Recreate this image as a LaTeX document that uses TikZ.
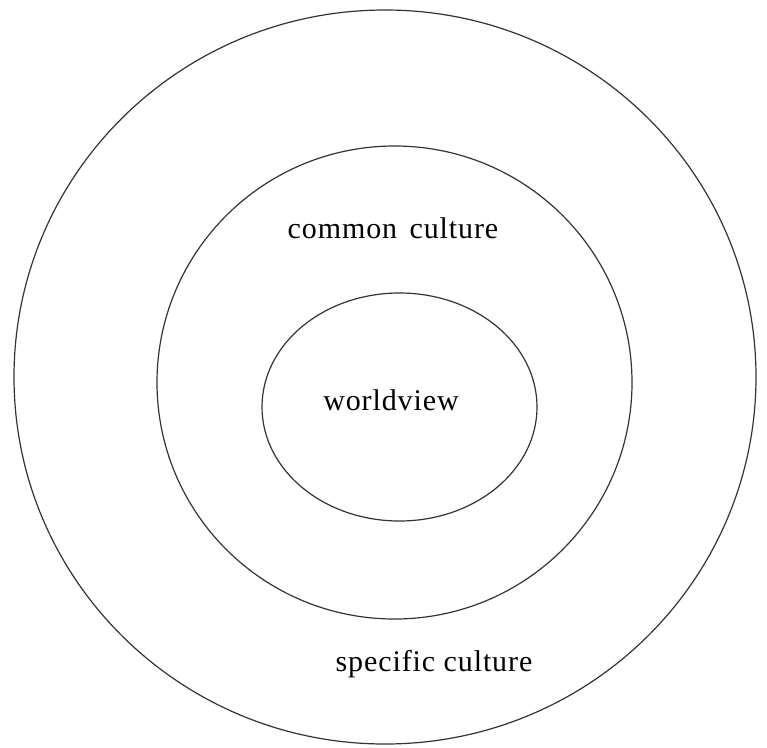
\documentclass[tikz,border=0pt]{standalone}
\usepackage{fontspec}
\setmainfont{Liberation Serif}
\begin{document}
\begin{tikzpicture}[x=1pt,y=-1pt,
  ring/.style={draw=black!80,line width=1.2pt},
  lbl/.style={font=\fontsize{30}{34}\addfontfeature{LetterSpace=3}\selectfont,inner sep=0pt}]
\useasboundingbox (0,0) rectangle (767,747);
% concentric rings
\draw[ring] (385,377) ellipse [x radius=371,y radius=367];
\draw[ring] (394.5,382.5) ellipse [x radius=237.5,y radius=236.5];
\draw[ring] (399.5,407) ellipse [x radius=137.5,y radius=114];
% labels
\node[lbl] (common) at (393,228) {common\hspace{4pt} culture};
\node[lbl] (world) at (391,400) {worldview};
\node[lbl] (specific) at (434,664) {specific culture};
\end{tikzpicture}
\end{document}
